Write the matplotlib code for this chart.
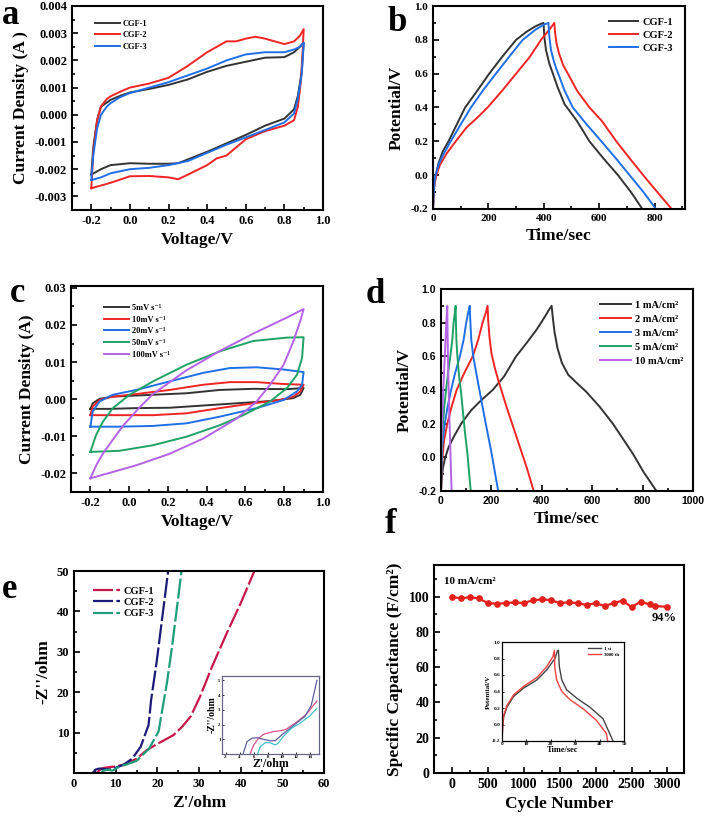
import matplotlib
matplotlib.use('Agg')
import matplotlib.pyplot as plt
from matplotlib.ticker import AutoMinorLocator, MultipleLocator, FormatStrFormatter

plt.rcParams['font.family'] = ['Liberation Serif', 'DejaVu Serif']
plt.rcParams['font.weight'] = 'bold'
plt.rcParams['axes.labelweight'] = 'bold'
plt.rcParams['axes.unicode_minus'] = False
plt.rcParams['axes.linewidth'] = 1.5

# ---------------- data: panel a (CV of CGF samples) ----------------
a_cgf1_v = [-0.2, -0.19, -0.17, -0.15, -0.12, -0.1, -0.05, 0.0, 0.1, 0.2, 0.3, 0.4, 0.5, 0.6, 0.7, 0.8, 0.85, 0.88, 0.9,
            0.9, 0.89, 0.87, 0.85, 0.8, 0.7, 0.6, 0.5, 0.4, 0.3, 0.25, 0.2, 0.1, 0.0, -0.1, -0.15, -0.2]
a_cgf1_i = [-0.0022, -0.0012, -0.0002, 0.0003, 0.00045, 0.00055, 0.0007, 0.00082, 0.00095, 0.0011, 0.0013, 0.00158, 0.0018, 0.00195, 0.0021, 0.00212, 0.0023, 0.0025, 0.00265,
            0.00265, 0.0016, 0.0007, 0.0002, -0.00014, -0.0004, -0.00074, -0.00105, -0.00136, -0.00164, -0.00178, -0.0018, -0.0018, -0.00178, -0.00185, -0.002, -0.0022]
a_cgf2_v = [-0.2, -0.19, -0.17, -0.15, -0.12, -0.1, -0.05, 0.0, 0.1, 0.2, 0.3, 0.4, 0.45, 0.5, 0.55, 0.6, 0.65, 0.7, 0.75, 0.8, 0.85, 0.88, 0.9,
            0.9, 0.895, 0.885, 0.87, 0.85, 0.8, 0.7, 0.6, 0.55, 0.5, 0.45, 0.4, 0.3, 0.25, 0.2, 0.1, 0.0, -0.1, -0.15, -0.2]
a_cgf2_i = [-0.0027, -0.0014, -0.0002, 0.0003, 0.00058, 0.00068, 0.00085, 0.001, 0.00115, 0.00136, 0.0018, 0.0023, 0.0025, 0.0027, 0.0027, 0.0028, 0.00287, 0.0028, 0.0027, 0.0026, 0.0027, 0.0029, 0.00315,
            0.00315, 0.0024, 0.0012, 0.0003, -0.0002, -0.0004, -0.0006, -0.0009, -0.0012, -0.0015, -0.0016, -0.00185, -0.0022, -0.00237, -0.0023, -0.00225, -0.00226, -0.0025, -0.0026, -0.0027]
a_cgf3_v = [-0.2, -0.19, -0.17, -0.15, -0.12, -0.1, -0.05, 0.0, 0.1, 0.2, 0.3, 0.4, 0.5, 0.6, 0.7, 0.8, 0.85, 0.88, 0.9,
            0.9, 0.89, 0.87, 0.85, 0.8, 0.7, 0.6, 0.5, 0.4, 0.3, 0.2, 0.1, 0.0, -0.1, -0.15, -0.2]
a_cgf3_i = [-0.0024, -0.0015, -0.0005, 0.0, 0.0003, 0.00043, 0.00065, 0.0008, 0.001, 0.0012, 0.00145, 0.0017, 0.002, 0.00222, 0.0023, 0.0023, 0.0024, 0.0025, 0.00265,
            0.00265, 0.0015, 0.0006, 0.00005, -0.00028, -0.00056, -0.00083, -0.0011, -0.0014, -0.0017, -0.00185, -0.00195, -0.002, -0.00215, -0.0023, -0.0024]

# ---------------- data: panel b (GCD of CGF samples) ----------------
b_cgf1_t = [0, 2, 5, 10, 20, 35, 56, 80, 116, 160, 203, 250, 300, 340, 370, 390, 399,
            402, 408, 420, 433, 450, 475, 520, 565, 615, 668, 715, 756]
b_cgf1_v = [-0.2, -0.12, -0.05, 0.0, 0.07, 0.14, 0.2, 0.28, 0.4, 0.5, 0.6, 0.7, 0.8, 0.85, 0.88, 0.895, 0.9,
            0.82, 0.74, 0.66, 0.6, 0.52, 0.42, 0.32, 0.2, 0.1, 0.0, -0.1, -0.2]
b_cgf2_t = [0, 2, 5, 12, 25, 50, 82, 120, 160, 197, 250, 300, 350, 390, 420, 438,
            441, 446, 455, 470, 487, 520, 565, 610, 662, 710, 759, 810, 862]
b_cgf2_v = [-0.2, -0.12, -0.06, 0.0, 0.06, 0.13, 0.2, 0.28, 0.34, 0.4, 0.5, 0.6, 0.7, 0.8, 0.86, 0.9,
            0.84, 0.78, 0.72, 0.65, 0.6, 0.5, 0.4, 0.32, 0.2, 0.1, 0.0, -0.1, -0.2]
b_cgf3_t = [0, 2, 5, 9, 22, 40, 64, 100, 137, 180, 227, 275, 324, 370, 400, 417,
            420, 426, 437, 445, 457, 475, 505, 555, 608, 660, 710, 760, 805]
b_cgf3_v = [-0.2, -0.12, -0.05, 0.0, 0.07, 0.13, 0.2, 0.3, 0.4, 0.5, 0.6, 0.7, 0.8, 0.86, 0.89, 0.9,
            0.82, 0.74, 0.67, 0.63, 0.58, 0.5, 0.4, 0.3, 0.2, 0.1, 0.0, -0.1, -0.2]

# ---------------- data: panel c (CV at scan rates) ----------------
c_labels = ['5mV s⁻¹', '10mV s⁻¹', '20mV s⁻¹', '50mV s⁻¹', '100mV s⁻¹']
c5_v = [-0.2, -0.188, -0.153, -0.084, 0.123, 0.296, 0.468, 0.641, 0.814, 0.9, 0.883, 0.848, 0.727, 0.555, 0.382, 0.209, 0.037, -0.1, -0.2]
c5_i = [-0.0026, -0.0011, 0.0001, 0.0007, 0.0012, 0.0016, 0.0025, 0.0028, 0.0027, 0.003, 0.0012, 0.0003, -0.0005, -0.0011, -0.0017, -0.0023, -0.0024, -0.0026, -0.0026]
c10_v = [-0.2, -0.188, -0.153, -0.084, 0.037, 0.209, 0.382, 0.52, 0.658, 0.797, 0.9, 0.883, 0.848, 0.779, 0.641, 0.468, 0.296, 0.123, -0.05, -0.2]
c10_i = [-0.0043, -0.002, -0.0002, 0.0007, 0.0014, 0.0025, 0.0039, 0.0046, 0.0046, 0.0041, 0.0039, 0.0021, 0.0007, -0.0002, -0.0011, -0.0024, -0.0038, -0.0043, -0.0043, -0.0043]
c20_v = [-0.2, -0.188, -0.153, -0.084, 0.037, 0.209, 0.382, 0.52, 0.658, 0.797, 0.9, 0.892, 0.866, 0.797, 0.658, 0.468, 0.296, 0.123, -0.05, -0.2]
c20_i = [-0.0074, -0.0033, -0.0006, 0.0012, 0.0025, 0.0048, 0.0071, 0.0084, 0.0086, 0.008, 0.0073, 0.0039, 0.0021, -0.0002, -0.0024, -0.0047, -0.0065, -0.0072, -0.0074, -0.0074]
c50_v = [-0.2, -0.171, -0.136, -0.084, 0.002, 0.123, 0.296, 0.468, 0.641, 0.814, 0.9, 0.892, 0.866, 0.814, 0.727, 0.589, 0.468, 0.296, 0.123, -0.05, -0.2]
c50_i = [-0.0142, -0.0097, -0.0061, -0.0024, 0.0012, 0.0048, 0.0093, 0.0129, 0.0157, 0.0166, 0.0167, 0.0111, 0.0066, 0.003, -0.0006, -0.0043, -0.007, -0.0101, -0.0124, -0.0139, -0.0142]
c100_v = [-0.2, -0.17, -0.136, -0.08, -0.032, 0.05, 0.123, 0.296, 0.468, 0.641, 0.814, 0.9, 0.883, 0.848, 0.797, 0.727, 0.658, 0.555, 0.382, 0.209, 0.037, -0.084, -0.2]
c100_i = [-0.0213, -0.0178, -0.0147, -0.0106, -0.0072, -0.0024, 0.0014, 0.0078, 0.013, 0.0177, 0.022, 0.0243, 0.0211, 0.0157, 0.0093, 0.0039, -0.0006, -0.0052, -0.0106, -0.0147, -0.0178, -0.0196, -0.0213]

# ---------------- data: panel d (GCD at current densities) ----------------
d_labels = ['1 mA/cm²', '2 mA/cm²', '3 mA/cm²', '5 mA/cm²', '10 mA/cm²']
d1_t = [0, 3, 8, 17, 30, 50, 80, 120, 160, 205, 250, 298, 340, 380, 410, 430, 439,
        443, 450, 462, 480, 505, 540, 576, 630, 682, 722, 762, 805, 855]
d1_v = [-0.2, -0.12, -0.06, 0.0, 0.06, 0.12, 0.2, 0.28, 0.34, 0.4, 0.48, 0.6, 0.68, 0.76, 0.83, 0.88, 0.9,
        0.84, 0.75, 0.65, 0.56, 0.49, 0.44, 0.39, 0.3, 0.2, 0.11, 0.02, -0.09, -0.2]
d2_t = [0, 2, 6, 12, 25, 42, 62, 92, 126, 148, 165, 178, 185, 187, 192, 200, 212, 225, 260, 300, 340, 368]
d2_v = [-0.2, -0.1, 0.0, 0.1, 0.2, 0.3, 0.4, 0.5, 0.6, 0.7, 0.8, 0.86, 0.9, 0.82, 0.72, 0.62, 0.54, 0.47, 0.3, 0.12, -0.06, -0.2]
d3_t = [0, 1, 3, 7, 15, 26, 40, 56, 75, 90, 100, 108, 114, 116, 120, 128, 140, 150, 175, 200, 227]
d3_v = [-0.2, -0.1, 0.0, 0.1, 0.2, 0.3, 0.4, 0.5, 0.6, 0.7, 0.8, 0.86, 0.9, 0.82, 0.7, 0.6, 0.5, 0.42, 0.22, 0.03, -0.2]
d5_t = [0, 1, 2, 4, 8, 13, 20, 28, 37, 45, 50, 55, 58, 59, 61, 65, 72, 80, 95, 105, 118]
d5_v = [-0.2, -0.1, 0.0, 0.1, 0.2, 0.3, 0.4, 0.5, 0.6, 0.7, 0.8, 0.86, 0.9, 0.82, 0.7, 0.6, 0.48, 0.38, 0.15, 0.02, -0.2]
d10_t = [0, 1, 4, 9, 15, 21, 25, 26, 28, 32, 36, 42]
d10_v = [-0.2, 0.0, 0.2, 0.4, 0.6, 0.8, 0.9, 0.75, 0.55, 0.3, 0.1, -0.2]

# ---------------- data: panel e (Nyquist) ----------------
e_cgf1_x = [5.5, 6.0, 6.7, 7.4, 8.8, 10.0, 12.0, 15.0, 17.5, 20.0, 23.9, 26.0, 28.0, 30.3, 33.0, 36.7, 40.0, 43.3]
e_cgf1_y = [0.0, 0.6, 1.1, 1.3, 1.5, 1.6, 2.1, 3.5, 5.7, 7.2, 9.4, 11.5, 14.0, 19.0, 26.0, 34.7, 42.0, 50.0]
e_cgf2_x = [4.5, 5.1, 5.8, 6.5, 7.2, 8.4, 9.1, 10.0, 12.0, 14.0, 16.0, 17.9, 18.5, 19.9, 21.0, 22.6]
e_cgf2_y = [0.0, 0.8, 1.05, 1.1, 1.0, 0.9, 0.9, 1.3, 2.1, 3.6, 6.5, 11.9, 18.0, 28.0, 37.0, 50.0]
e_cgf3_x = [6.6, 6.9, 7.7, 8.4, 9.1, 9.5, 10.2, 11.4, 12.6, 15.0, 18.0, 20.3, 21.0, 22.3, 23.5, 24.6, 25.8]
e_cgf3_y = [0.0, 0.5, 0.77, 0.77, 0.6, 0.73, 1.2, 1.75, 2.1, 3.0, 6.0, 10.3, 14.5, 22.3, 31.0, 40.0, 50.0]
# inset (zoom of low-Z region)
ei_cgf1_x = [5.5, 6.0, 6.7, 7.4, 8.8, 10.0, 10.7, 12.1, 13.5, 15.0]
ei_cgf1_y = [0.0, 0.61, 1.07, 1.34, 1.52, 1.59, 1.7, 2.16, 2.7, 3.6]
ei_cgf2_x = [4.5, 5.06, 5.76, 6.47, 7.18, 8.35, 9.06, 10.0, 11.2, 12.6, 13.3, 14.2, 15.0]
ei_cgf2_y = [0.0, 0.84, 1.07, 1.11, 1.02, 0.9, 0.9, 1.3, 1.75, 2.3, 2.55, 3.3, 5.0]
ei_cgf3_x = [6.56, 6.94, 7.65, 8.35, 9.06, 9.5, 10.2, 11.4, 12.6, 14.0, 15.0]
ei_cgf3_y = [0.0, 0.5, 0.77, 0.77, 0.61, 0.73, 1.18, 1.75, 2.09, 2.6, 3.1]

# ---------------- data: panel f (cycling) ----------------
f_cycle = [0, 125, 250, 375, 500, 625, 750, 875, 1000, 1125, 1250, 1375, 1500, 1625, 1750, 1875, 2000, 2125, 2250, 2375, 2500, 2625, 2750, 2825, 3000]
f_cap = [100, 99.0, 99.8, 99.0, 96.4, 96.0, 96.4, 96.8, 96.4, 98.0, 98.5, 98.1, 96.4, 96.8, 96.4, 95.3, 96.4, 94.7, 96.4, 97.8, 94.1, 97.2, 95.6, 94.7, 94.3]
fi_1st_t = [0, 0.27, 0.68, 2.0, 4.75, 8.8, 14.3, 18.3, 21.7, 22.7, 23.1, 23.2, 23.5, 24.5, 26.5, 30.6, 36.0, 41.4, 45.5]
fi_1st_v = [-0.2, -0.03, 0.09, 0.21, 0.34, 0.44, 0.54, 0.66, 0.8, 0.89, 0.9, 0.86, 0.7, 0.54, 0.42, 0.32, 0.21, 0.07, -0.2]
fi_3000_t = [0, 0.27, 0.68, 2.0, 4.75, 8.8, 14.3, 18.3, 20.8, 21.5, 21.6, 22.4, 24.5, 27.9, 33.3, 38.7, 42.8, 43.3]
fi_3000_v = [-0.2, -0.01, 0.11, 0.23, 0.36, 0.46, 0.57, 0.7, 0.82, 0.9, 0.7, 0.54, 0.4, 0.3, 0.19, 0.05, -0.11, -0.2]

W, H = 707, 816
fig = plt.figure(figsize=(W / 100, H / 100), dpi=100)


def box(l, t, r, b):
    return [l / W, (H - b) / H, (r - l) / W, (b - t) / H]


def style(ax, size=9, family=None, minor=True):
    ax.tick_params(which='both', direction='in', width=1.2)
    ax.tick_params(which='major', length=4, labelsize=size)
    ax.tick_params(which='minor', length=2.5)
    if minor:
        ax.xaxis.set_minor_locator(AutoMinorLocator(2))
        ax.yaxis.set_minor_locator(AutoMinorLocator(2))
    for lab in ax.get_xticklabels() + ax.get_yticklabels():
        lab.set_fontweight('bold')
        if family:
            lab.set_family(family)


LBL = 12.5
BLK, RED, BLU, GRN, PUR = '#333333', '#F02424', '#1F6FE6', '#1FA266', '#B462E6'

# ---- a ----
ax = fig.add_axes(box(72, 6, 323, 210))
ax.plot(a_cgf1_v, a_cgf1_i, color=BLK, lw=1.4, label='CGF-1')
ax.plot(a_cgf2_v, a_cgf2_i, color=RED, lw=1.4, label='CGF-2')
ax.plot(a_cgf3_v, a_cgf3_i, color=BLU, lw=1.4, label='CGF-3')
ax.set_xlim(-0.3, 1.0)
ax.set_ylim(-0.0035, 0.004)
ax.xaxis.set_major_locator(MultipleLocator(0.2))
ax.yaxis.set_major_locator(MultipleLocator(0.001))
ax.xaxis.set_major_formatter(FormatStrFormatter('%.1f'))
ax.yaxis.set_major_formatter(FormatStrFormatter('%.3f'))
ax.set_xlabel('Voltage/V', fontsize=LBL)
ax.set_ylabel('Current Density (A )', fontsize=LBL)
style(ax, 9)
ax.legend(loc='upper left', bbox_to_anchor=(0.06, 0.97), frameon=False, prop={'size': 6, 'weight': 'bold'},
          handlelength=3, labelspacing=0.45, handletextpad=0.4)

# ---- b ----
ax = fig.add_axes(box(433, 6, 685, 209))
ax.plot(b_cgf1_t, b_cgf1_v, color=BLK, lw=1.4, label='CGF-1')
ax.plot(b_cgf2_t, b_cgf2_v, color=RED, lw=1.4, label='CGF-2')
ax.plot(b_cgf3_t, b_cgf3_v, color=BLU, lw=1.4, label='CGF-3')
ax.set_xlim(0, 910)
ax.set_ylim(-0.2, 1.0)
ax.xaxis.set_major_locator(MultipleLocator(200))
ax.yaxis.set_major_locator(MultipleLocator(0.2))
ax.yaxis.set_major_formatter(FormatStrFormatter('%.1f'))
ax.set_xlabel('Time/sec', fontsize=LBL)
ax.set_ylabel('Potential/V', fontsize=LBL)
style(ax, 8)
ax.legend(loc='upper right', bbox_to_anchor=(0.99, 0.99), frameon=False, prop={'size': 7.5, 'weight': 'bold'},
          handlelength=2.8, labelspacing=0.35, handletextpad=0.4)

# ---- c ----
ax = fig.add_axes(box(71, 286, 323, 492))
for v, i, c, lab in zip([c5_v, c10_v, c20_v, c50_v, c100_v], [c5_i, c10_i, c20_i, c50_i, c100_i],
                        [BLK, RED, BLU, GRN, PUR], c_labels):
    ax.plot(v, i, color=c, lw=1.4, label=lab)
ax.set_xlim(-0.3, 1.0)
ax.set_ylim(-0.025, 0.0305)
ax.xaxis.set_major_locator(MultipleLocator(0.2))
ax.yaxis.set_major_locator(MultipleLocator(0.01))
ax.xaxis.set_major_formatter(FormatStrFormatter('%.1f'))
ax.yaxis.set_major_formatter(FormatStrFormatter('%.2f'))
ax.set_xlabel('Voltage/V', fontsize=LBL)
ax.set_ylabel('Current Density (A)', fontsize=LBL)
style(ax, 9)
ax.legend(loc='upper left', bbox_to_anchor=(0.1, 0.95), frameon=False, prop={'size': 6, 'weight': 'bold'},
          handlelength=3, labelspacing=0.45, handletextpad=0.4)

# ---- d ----
ax = fig.add_axes(box(441, 289, 693, 491))
for t, v, c, lab in zip([d1_t, d2_t, d3_t, d5_t, d10_t], [d1_v, d2_v, d3_v, d5_v, d10_v],
                        [BLK, RED, BLU, GRN, PUR], d_labels):
    ax.plot(t, v, color=c, lw=1.4, label=lab)
ax.set_xlim(0, 1000)
ax.set_ylim(-0.2, 1.0)
ax.xaxis.set_major_locator(MultipleLocator(200))
ax.yaxis.set_major_locator(MultipleLocator(0.2))
ax.yaxis.set_major_formatter(FormatStrFormatter('%.1f'))
ax.set_xlabel('Time/sec', fontsize=LBL)
ax.set_ylabel('Potential/V', fontsize=LBL)
style(ax, 7.5, family='Liberation Sans')
ax.legend(loc='upper right', bbox_to_anchor=(1.0, 0.99), frameon=False, prop={'size': 7.5, 'weight': 'bold'},
          handlelength=3, labelspacing=0.45, handletextpad=0.4)

# ---- e ----
C1, C2, C3 = '#C8174A', '#1C1C78', '#1E9E7A'
ax = fig.add_axes(box(74, 571, 324, 773))
dash = (0, (9, 1.5))
ax.plot(e_cgf1_x, e_cgf1_y, color=C1, lw=1.6, ls=dash, label='CGF-1')
ax.plot(e_cgf2_x, e_cgf2_y, color=C2, lw=1.6, ls=dash, label='CGF-2')
ax.plot(e_cgf3_x, e_cgf3_y, color=C3, lw=1.6, ls=dash, label='CGF-3')
ax.set_xlim(0, 60)
ax.set_ylim(0, 50)
ax.xaxis.set_major_locator(MultipleLocator(10))
ax.set_yticks([10, 20, 30, 40, 50])
ax.set_xlabel("Z'/ohm", fontsize=LBL)
ax.set_ylabel("-Z''/ohm", fontsize=LBL)
style(ax, 9)
ax.legend(loc='upper left', bbox_to_anchor=(0.04, 0.97), frameon=False, prop={'size': 7.5, 'weight': 'bold'},
          handlelength=2.6, labelspacing=0.2, handletextpad=0.3)

axi = fig.add_axes(box(222, 676, 319, 754))
axi.plot(ei_cgf1_x, ei_cgf1_y, color='#E0508A', lw=0.9)
axi.plot(ei_cgf2_x, ei_cgf2_y, color='#5D5DA0', lw=0.9)
axi.plot(ei_cgf3_x, ei_cgf3_y, color='#40C0C8', lw=0.9)
axi.set_xlim(1.5, 15.3)
axi.set_ylim(0, 5.3)
axi.set_xticks([2, 4, 6, 8, 10, 12, 14])
axi.set_yticks([1, 2, 3, 4, 5])
axi.tick_params(direction='in', length=1.5, labelsize=3.5, pad=1, width=0.6)
for s in axi.spines.values():
    s.set_linewidth(0.9)
    s.set_color('#666688')
axi.set_xlabel("Z'/ohm", fontsize=8.5, labelpad=-1)
axi.set_ylabel("-Z''/ohm", fontsize=7, labelpad=1)

# ---- f ----
ax = fig.add_axes(box(434, 565, 684, 773))
ax.plot(f_cycle, f_cap, color='#E3201B', lw=1.6, marker='o', ms=3.8)
ax.set_xlim(-250, 3230)
ax.set_ylim(0, 118)
ax.xaxis.set_major_locator(MultipleLocator(500))
ax.yaxis.set_major_locator(MultipleLocator(20))
ax.set_xlabel('Cycle Number', fontsize=LBL)
ax.set_ylabel('Specific Capacitance (F/cm²)', fontsize=LBL)
style(ax, 10)
ax.text(0.04, 0.94, '10 mA/cm²', transform=ax.transAxes, fontsize=8, fontweight='bold', va='top', ha='left')
ax.text(2950, 88, '94%', fontsize=9, fontweight='bold', ha='center', va='center')

axi = fig.add_axes(box(502, 642, 624, 741))
axi.plot(fi_1st_t, fi_1st_v, color='#444444', lw=1.0, label='1 st')
axi.plot(fi_3000_t, fi_3000_v, color='#F04040', lw=1.0, label='3000 th')
axi.set_xlim(0, 50)
axi.set_ylim(-0.2, 1.0)
axi.xaxis.set_major_locator(MultipleLocator(10))
axi.yaxis.set_major_locator(MultipleLocator(0.2))
axi.yaxis.set_major_formatter(FormatStrFormatter('%.1f'))
axi.tick_params(direction='in', length=1.5, labelsize=3.8, pad=1, width=0.6)
for s in axi.spines.values():
    s.set_linewidth(0.9)
axi.set_xlabel('Time/sec', fontsize=6, labelpad=0)
axi.set_ylabel('Potential/V', fontsize=5, labelpad=1)
axi.legend(loc='upper right', frameon=False, prop={'size': 3.5, 'weight': 'bold'}, handlelength=2.5,
           labelspacing=0.3, borderaxespad=0.5)

# ---- panel letters ----
for s, x, y in [('a', 2, 24), ('b', 387, 31), ('c', 10, 302), ('d', 366, 303), ('e', 2, 598), ('f', 385, 533)]:
    fig.text(x / W, 1 - y / H, s, fontsize=25, fontweight='bold', ha='left', va='baseline')

fig.savefig('out.png', dpi=100)
